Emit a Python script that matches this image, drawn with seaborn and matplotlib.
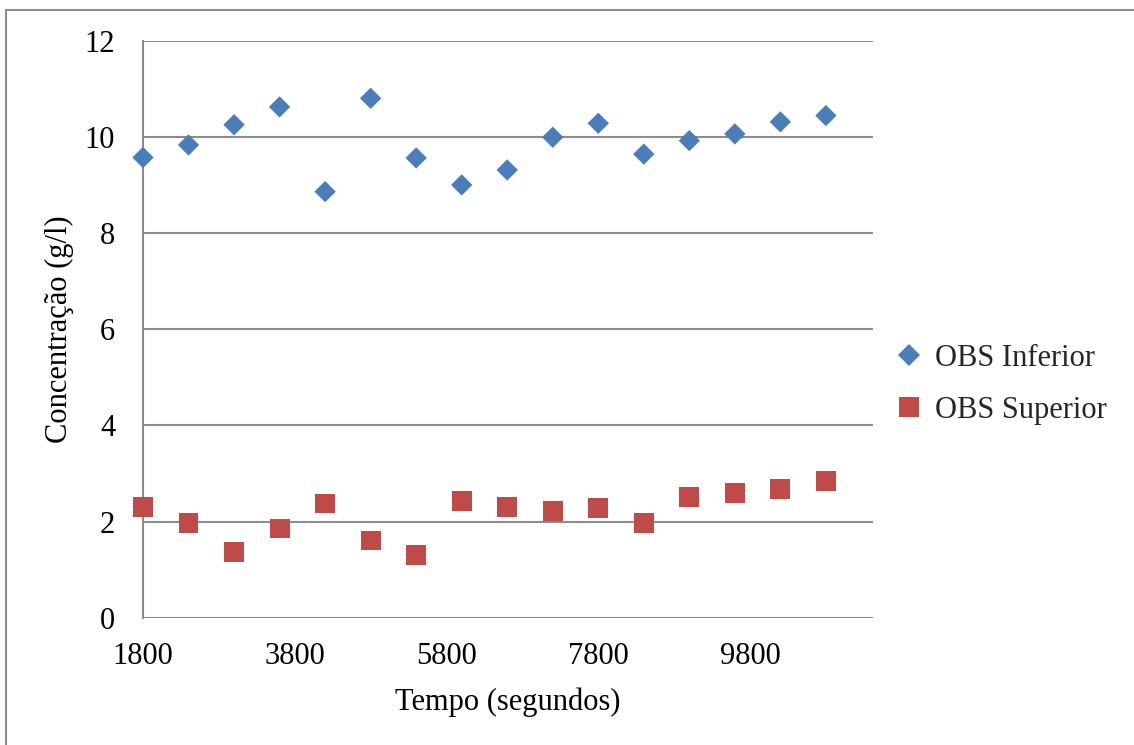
import matplotlib
matplotlib.use("Agg")
import matplotlib.pyplot as plt
from matplotlib.lines import Line2D
import seaborn as sns
import pandas as pd

# Sampling times (s) and measured concentrations (g/l)
tempo = [1800, 2400, 3000, 3600, 4200, 4800, 5400, 6000,
         6600, 7200, 7800, 8400, 9000, 9600, 10200, 10800]
obs_inferior = [9.57, 9.83, 10.25, 10.62, 8.86, 10.80, 9.56, 9.00,
                9.31, 9.99, 10.28, 9.64, 9.92, 10.06, 10.31, 10.44]
obs_superior = [2.30, 1.98, 1.37, 1.86, 2.38, 1.61, 1.31, 2.44,
                2.31, 2.23, 2.28, 1.98, 2.52, 2.60, 2.68, 2.84]

series_names = ["OBS Inferior", "OBS Superior"]
colors = {"OBS Inferior": "#4A7EBB", "OBS Superior": "#BE4B48"}
markers = {"OBS Inferior": "D", "OBS Superior": "s"}
sizes = {"OBS Inferior": 118, "OBS Superior": 205}

x_ticks = [1800, 3800, 5800, 7800, 9800]
y_ticks = [0, 2, 4, 6, 8, 10, 12]

df = pd.DataFrame({
    "Tempo": tempo * 2,
    "Concentracao": obs_inferior + obs_superior,
    "Serie": [series_names[0]] * len(tempo) + [series_names[1]] * len(tempo),
})

sns.set_theme(style="white")
plt.rcParams["font.family"] = ["Liberation Serif", "DejaVu Serif"]

fig = plt.figure(figsize=(11.34, 7.45), dpi=100)
ax = fig.add_axes([0.1261, 0.1705, 0.6437, 0.7751])

for name in series_names:
    sub = df[df["Serie"] == name]
    sns.scatterplot(data=sub, x="Tempo", y="Concentracao", ax=ax,
                    color=colors[name], marker=markers[name], s=sizes[name],
                    edgecolor="none", linewidth=0, legend=False, zorder=3,
                    clip_on=False)

ax.set_xlim(1800, 11420)
ax.set_ylim(0, 12)
ax.set_xticks(x_ticks)
ax.set_yticks(y_ticks)
ax.set_xticklabels([str(t) for t in x_ticks])
ax.set_yticklabels([str(t) for t in y_ticks])
ax.tick_params(axis="both", length=0, labelsize=22, colors="black")
ax.tick_params(axis="x", pad=17)
ax.tick_params(axis="y", pad=20)

ax.grid(axis="y", color="#8C8C8C", linewidth=1.5)
ax.grid(axis="x", visible=False)
for side in ["top", "right", "bottom"]:
    ax.spines[side].set_visible(False)
ax.spines["left"].set_color("#8C8C8C")
ax.spines["left"].set_linewidth(1.5)

ax.set_xlabel("Tempo (segundos)", fontsize=22, labelpad=12, color="black")
ax.set_ylabel("Concentração (g/l)", fontsize=22, labelpad=8, color="black")

handles = [Line2D([], [], linestyle="none", marker=markers[n],
                  color=colors[n], markersize=(sizes[n]) ** 0.5,
                  markeredgewidth=0) for n in series_names]
fig.legend(handles, series_names, loc="center left",
           bbox_to_anchor=(0.783, 0.484), frameon=False, fontsize=22,
           handlelength=0.6, handletextpad=0.55, labelspacing=0.75,
           borderaxespad=0)

# outer chart frame (top and left edges)
fig.add_artist(Line2D([6 / 1134, 6 / 1134], [0, 1 - 10 / 745],
                      transform=fig.transFigure, color="#8C8C8C", linewidth=1.5))
fig.add_artist(Line2D([6 / 1134, 1], [1 - 10 / 745, 1 - 10 / 745],
                      transform=fig.transFigure, color="#8C8C8C", linewidth=1.5))

fig.savefig("out.png", dpi=100, facecolor="white")
